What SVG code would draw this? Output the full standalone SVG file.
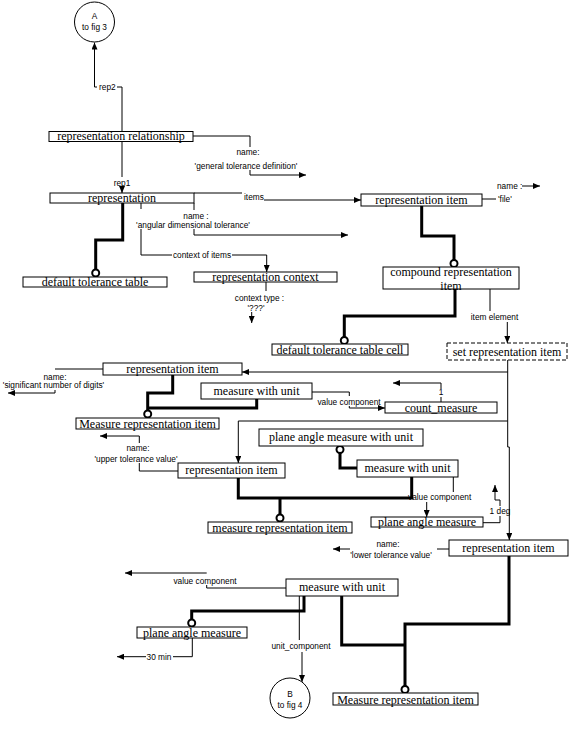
<svg xmlns="http://www.w3.org/2000/svg" width="575" height="748" viewBox="0 0 575 748">
<defs>
<style>
.box{fill:#fff;stroke:#000;stroke-width:1}
.dash{stroke-dasharray:4,2}
.bt{font-family:"Liberation Serif","Times New Roman",serif;font-size:12px;text-anchor:middle;fill:#000}
.lb{font-family:"Liberation Sans",Arial,sans-serif;font-size:8.3px;fill:#000}
.c{text-anchor:middle}
.ln{fill:none;stroke:#000;stroke-width:1}
.th{fill:none;stroke:#000;stroke-width:3}
.oc{fill:#fff;stroke:#000;stroke-width:2}
.ar{marker-end:url(#ah)}
</style>
<marker id="ah" viewBox="0 0 7 6" refX="7" refY="3" markerWidth="7" markerHeight="6" markerUnits="userSpaceOnUse" orient="auto">
<path d="M0,0 L7,3 L0,6 z" fill="#000"/>
</marker>
</defs>
<rect width="575" height="748" fill="#fff"/>

<g id="connectors">
<polyline class="ln" points="122,131.5 122,87 117,87"/>
<polyline class="ln ar" points="97,87 94.5,87 94.5,42.5"/>
<text class="lb" x="99" y="90">rep2</text>
<polyline class="ln" points="122,141 122,177"/>
<polyline class="ln ar" points="122,187 122,193"/>
<text class="lb c" x="122" y="185.5">rep1</text>
<polyline class="ln" points="193,136 250,136 250,147"/>
<polyline class="ln ar" points="250,170 250,175 306,175"/>
<text class="lb c" x="248" y="154.5">name:</text>
<text class="lb c" x="246" y="168.5">'general tolerance definition'</text>
<polyline class="ln" points="194,193 242,193"/>
<polyline class="ln ar" points="264,200 361,200"/>
<text class="lb" x="244" y="200">items</text>
<polyline class="ln" points="194,203 194,210"/>
<polyline class="ln ar" points="194,229 194,235 348,235"/>
<text class="lb c" x="196" y="219">name :</text>
<text class="lb c" x="193" y="228">'angular dimensional tolerance'</text>
<polyline class="ln" points="141,203 141,209"/>
<polyline class="ln" points="141,229 141,255 172,255"/>
<polyline class="ln ar" points="232,255 266.7,255 266.7,272"/>
<text class="lb c" x="202" y="258">context of items</text>
<polyline class="ln" points="266,282 266,291"/>
<polyline class="ln ar" points="251.7,312 251.7,323"/>
<text class="lb c" x="259.5" y="301">context type :</text>
<text class="lb c" x="256" y="310.5">'???'</text>
<polyline class="ln" points="482,199 496,199"/>
<polyline class="ln ar" points="522,186 540,186"/>
<text class="lb" x="497" y="189">name :</text>
<text class="lb" x="498" y="202">'file'</text>
<polyline class="ln" points="490,289 490,311"/>
<polyline class="ln ar" points="507.3,322 507.3,343"/>
<text class="lb c" x="494.5" y="319.5">item element</text>
<polyline class="ln ar" points="507.7,360 507.7,447 509.3,447 509.3,540"/>
<polyline class="ln ar" points="507.7,372 242,372"/>
<polyline class="ln ar" points="507.7,421 238.3,421 238.3,463"/>
<polyline class="ln" points="103,369 55,369"/>
<polyline class="ln ar" points="55,390 55,393 8,393"/>
<text class="lb c" x="55" y="379.5">name:</text>
<text class="lb c" x="53.5" y="388">'significant number of digits'</text>
<polyline class="ln" points="312,392 349.3,392 349.3,396"/>
<polyline class="ln ar" points="349.3,406 349.3,408 385,408"/>
<text class="lb c" x="349" y="404.5">value component</text>
<polyline class="ln" points="441,402 441,397"/>
<polyline class="ln ar" points="441,389 441,383 393,383"/>
<text class="lb c" x="441" y="395">1</text>
<polyline class="ln" points="178,471 139.3,471 139.3,463"/>
<polyline class="ln ar" points="139.3,443 139.3,436 100,436"/>
<text class="lb c" x="138" y="451">name:</text>
<text class="lb c" x="136" y="462">'upper tolerance value'</text>
<polyline class="ln" points="453.3,477 453.3,492"/>
<polyline class="ln ar" points="426.7,502 426.7,517"/>
<text class="lb" x="408" y="499.5">value component</text>
<polyline class="ln" points="482.7,522.7 500,522.7 500,516"/>
<polyline class="ln ar" points="500,506 500,500 495,500 495,485"/>
<text class="lb c" x="500" y="514">1 deg</text>
<polyline class="ln" points="449,549 437,549"/>
<polyline class="ln ar" points="350,549 333,549"/>
<text class="lb c" x="388" y="547">name:</text>
<text class="lb c" x="391" y="558">'lower tolerance value'</text>
<polyline class="ln" points="286,588 206.7,588 206.7,585"/>
<polyline class="ln ar" points="206.7,573 125,573"/>
<text class="lb c" x="205" y="584">value component</text>
<polyline class="ln" points="192.3,638 192.3,656.7 173,656.7"/>
<polyline class="ln ar" points="146,656.7 117,656.7"/>
<text class="lb c" x="159" y="659.5">30 min</text>
<polyline class="ln" points="299.3,596 299.3,640"/>
<polyline class="ln ar" points="302,652 302,682"/>
<text class="lb c" x="301" y="649">unit_component</text>

<polyline class="th" points="122.7,203 122.7,240 95.7,240 95.7,269.5"/>
<polyline class="th" points="421.7,206 421.7,236 454,236 454,260"/>
<polyline class="th" points="455,289 455,316 344.3,316 344.3,337"/>
<polyline class="th" points="172.7,375 172.7,393 147.7,393 147.7,410.5"/>
<polyline class="th" points="256.7,399 256.7,408 147.7,408"/>
<polyline class="th" points="340,453 340,468 357,468"/>
<polyline class="th" points="411.7,477 411.7,498 238.3,498 238.3,478"/>
<polyline class="th" points="280,498 280,514.5"/>
<polyline class="th" points="509,556 509,624 405,624 405,686"/>
<polyline class="th" points="341.7,596 341.7,645 405,645"/>
<polyline class="th" points="304,596 304,611 191.7,611 191.7,619.5"/>
<circle class="oc" cx="95.7" cy="273" r="3.5"/>
<circle class="oc" cx="454" cy="263.5" r="3.5"/>
<circle class="oc" cx="344.3" cy="340.5" r="3.5"/>
<circle class="oc" cx="147.7" cy="414" r="3.5"/>
<circle class="oc" cx="340" cy="449.5" r="3.5"/>
<circle class="oc" cx="280" cy="518" r="3.5"/>
<circle class="oc" cx="405" cy="689.5" r="3.5"/>
<circle class="oc" cx="191.7" cy="623" r="3.5"/>
</g>

<g id="circleA"><circle cx="94.5" cy="22" r="20" fill="#fff" stroke="#000"/><text class="lb c" x="94.5" y="19">A</text><text class="lb c" x="94.5" y="30">to fig 3</text></g>
<g id="circleB"><circle cx="290" cy="698" r="20" fill="#fff" stroke="#000"/><text class="lb c" x="290" y="697">B</text><text class="lb c" x="290" y="708">to fig 4</text></g>

<g id="representation_relationship"><rect class="box" x="49" y="131.5" width="144" height="10"/><text class="bt" x="121" y="140">representation relationship</text></g>
<g id="representation"><rect class="box" x="50" y="193" width="144" height="10"/><text class="bt" x="122" y="201.5">representation</text></g>
<g id="default_tolerance_table"><rect class="box" x="23" y="277" width="144" height="10"/><text class="bt" x="95" y="285.5">default tolerance table</text></g>
<g id="representation_item_top"><rect class="box" x="361" y="194" width="121" height="12"/><text class="bt" x="421.5" y="204">representation item</text></g>
<g id="representation_context"><rect class="box" x="194" y="272" width="143" height="10"/><text class="bt" x="265.5" y="280.5">representation context</text></g>
<g id="compound_representation_item"><rect class="box" x="383" y="267" width="136" height="22"/><text class="bt" x="451" y="276">compound representation</text><text class="bt" x="451" y="289.5">item</text></g>
<g id="default_tolerance_table_cell"><rect class="box" x="272" y="344" width="136" height="11"/><text class="bt" x="340" y="353.5">default tolerance table cell</text></g>
<g id="set_representation_item"><rect class="box dash" x="447" y="343" width="120" height="17"/><text class="bt" x="507" y="356">set representation item</text></g>
<g id="representation_item_sig"><rect class="box" x="103" y="363" width="139" height="12"/><text class="bt" x="172.5" y="373">representation item</text></g>
<g id="measure_with_unit_1"><rect class="box" x="201" y="383" width="111" height="16"/><text class="bt" x="256.5" y="395">measure with unit</text></g>
<g id="count_measure"><rect class="box" x="385" y="402" width="112" height="11"/><text class="bt" x="441" y="411.5">count_measure</text></g>
<g id="measure_representation_item_1"><rect class="box" x="76" y="418" width="143" height="11"/><text class="bt" x="147.5" y="427.5">Measure representation item</text></g>
<g id="plane_angle_measure_with_unit"><rect class="box" x="259" y="429" width="164" height="17"/><text class="bt" x="341" y="441">plane angle measure with unit</text></g>
<g id="representation_item_upper"><rect class="box" x="178" y="463" width="107" height="15"/><text class="bt" x="231.5" y="474">representation item</text></g>
<g id="measure_with_unit_2"><rect class="box" x="357" y="460" width="101" height="17"/><text class="bt" x="407.5" y="472">measure with unit</text></g>
<g id="measure_representation_item_2"><rect class="box" x="208" y="522" width="144" height="11"/><text class="bt" x="280" y="531.5">measure representation item</text></g>
<g id="plane_angle_measure_1"><rect class="box" x="371" y="517" width="112" height="10"/><text class="bt" x="427" y="526">plane angle measure</text></g>
<g id="representation_item_lower"><rect class="box" x="449" y="540" width="119" height="16"/><text class="bt" x="508.5" y="552">representation item</text></g>
<g id="measure_with_unit_3"><rect class="box" x="286" y="579" width="112" height="17"/><text class="bt" x="342" y="591">measure with unit</text></g>
<g id="plane_angle_measure_2"><rect class="box" x="137" y="627" width="110" height="11"/><text class="bt" x="192" y="636.5">plane angle measure</text></g>
<g id="measure_representation_item_3"><rect class="box" x="333" y="693" width="145" height="12"/><text class="bt" x="405.5" y="703.5">Measure representation item</text></g>
</svg>
